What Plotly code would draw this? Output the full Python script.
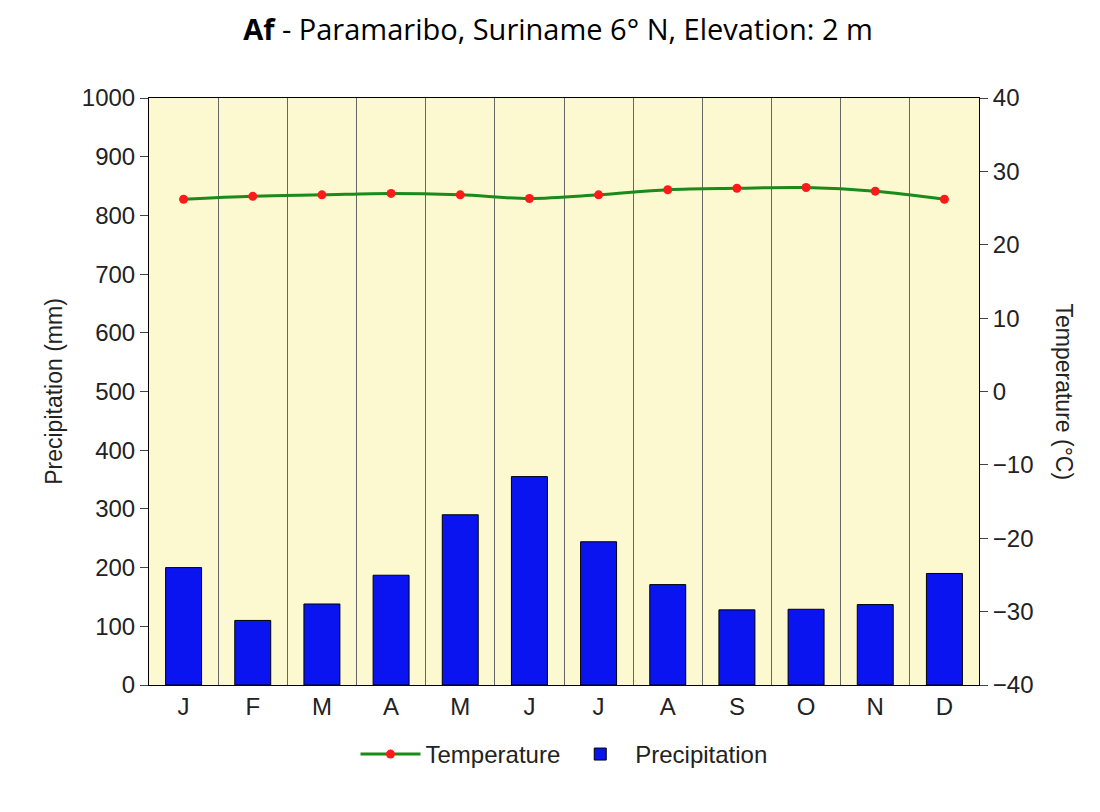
import plotly.graph_objs as go

months = ['J', 'F', 'M', 'A', 'M', 'J', 'J', 'A', 'S', 'O', 'N', 'D']
precip = [200, 110, 138, 187, 290, 355, 244, 171, 128, 129, 137, 190]
temp = [26.2, 26.6, 26.8, 27.0, 26.8, 26.3, 26.8, 27.5, 27.7, 27.8, 27.3, 26.2]
xpos = [i + 0.5 for i in range(12)]

bars = go.Bar(x=xpos, y=precip, name='Precipitation', width=0.52,
              marker=dict(color='#0a14f0', line=dict(color='#000', width=1)))
line = go.Scatter(x=xpos, y=temp, name='Temperature', yaxis='y2',
                  mode='lines+markers', line=dict(color='#1a8a1a', width=3, shape='spline'),
                  marker=dict(color='#ff1a1a', size=9))

fig = go.Figure(data=[line, bars])
fig.update_layout(
    width=1100, height=812,
    font=dict(family='Liberation Sans, Arial', size=24, color='#222'),
    title=dict(text='<b>Af</b> - Paramaribo, Suriname 6° N, Elevation: 2 m',
               x=0.5, xanchor='center', y=0.985, yanchor='top',
               font=dict(family='Open Sans', size=29, color='#000')),
    plot_bgcolor='#fcf9d0', paper_bgcolor='white',
    margin=dict(l=141, r=129, t=90, b=135, autoexpand=False),
    xaxis=dict(range=[0, 12], tickvals=xpos, ticktext=months, showgrid=False,
               showline=True, linecolor='#000', mirror=True, ticks='', automargin=False,
               minor=dict(tick0=0, dtick=1, showgrid=True, gridcolor='#666', gridwidth=1)),
    yaxis=dict(range=[0, 1000], dtick=100,
               title=dict(text='Precipitation (mm)', standoff=12, font=dict(size=23)),
               showgrid=False, automargin=False,
               showline=True, linecolor='#000', ticks='outside', ticklen=8, zeroline=False),
    yaxis2=dict(range=[-40, 40], dtick=10, overlaying='y', side='right', automargin=False,
                showgrid=False, ticks='outside',
                ticklen=8, showline=True, linecolor='#000', zeroline=False),
    legend=dict(orientation='h', x=0.5, xanchor='center', y=-0.08, yanchor='top',
                font=dict(size=24), itemwidth=60, traceorder='normal'),
    bargap=0.5,
    annotations=[dict(text='Temperature (°C)', textangle=90, xref='paper', yref='paper',
                      x=1.0, xshift=100, y=0.5, showarrow=False, font=dict(size=23))],
)
fig.write_html('out.html')
